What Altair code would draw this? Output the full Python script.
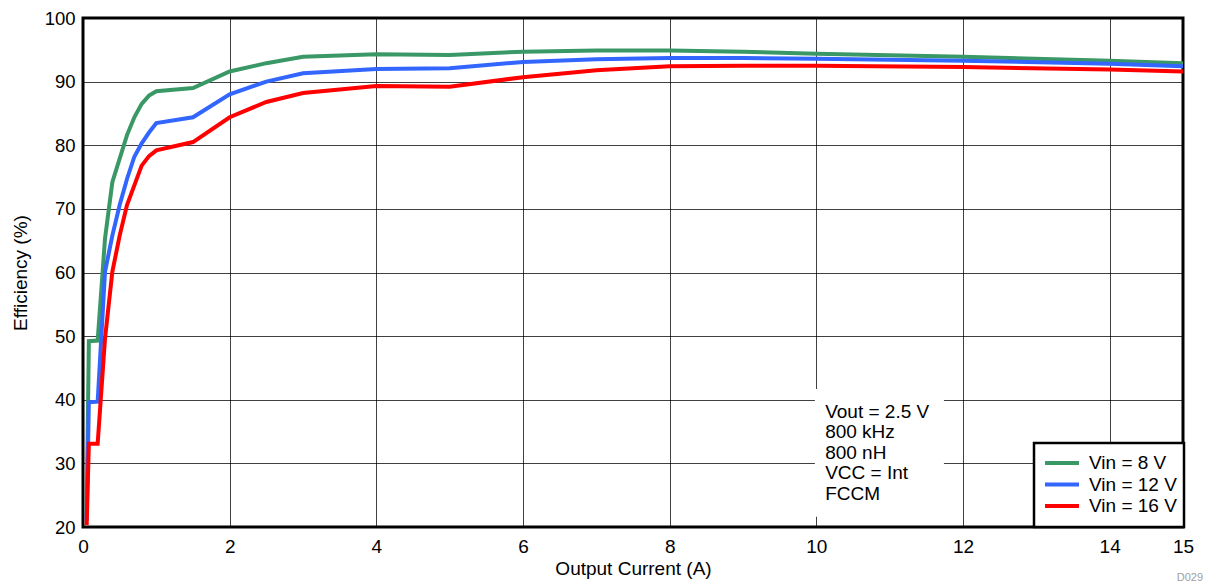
import altair as alt
import pandas as pd

current = [0.05, 0.08, 0.2, 0.3, 0.4, 0.5, 0.6, 0.7, 0.8, 0.9, 1.0, 1.5, 2, 2.5, 3, 4, 5, 6, 7, 8, 9, 10, 12, 14, 15]
eff_8v = [22, 49.2, 49.3, 65.3, 74.2, 77.9, 81.6, 84.4, 86.5, 87.8, 88.5, 89.0, 91.6, 92.9, 93.9, 94.3, 94.2, 94.7, 94.9, 94.9, 94.7, 94.4, 93.9, 93.3, 92.9]
eff_12v = [21, 39.6, 39.7, 60.1, 65.8, 70.6, 74.7, 78.2, 80.3, 82.0, 83.5, 84.4, 88.0, 90.0, 91.3, 92.0, 92.1, 93.1, 93.5, 93.7, 93.7, 93.6, 93.3, 92.8, 92.4]
eff_16v = [20.3, 33.1, 33.1, 49.6, 60.1, 65.8, 70.6, 73.7, 76.8, 78.3, 79.2, 80.5, 84.4, 86.8, 88.2, 89.3, 89.2, 90.7, 91.8, 92.4, 92.5, 92.5, 92.3, 91.9, 91.6]
series = ["Vin = 8 V", "Vin = 12 V", "Vin = 16 V"]
colors = ["#3A9866", "#3366FF", "#FF0000"]
x_ticks = [0, 2, 4, 6, 8, 10, 12, 14, 15]
y_ticks = [20, 30, 40, 50, 60, 70, 80, 90, 100]
note_lines = ["Vout = 2.5 V", "800 kHz", "800 nH", "VCC = Int", "FCCM"]

rows = []
for name, vals in zip(series, [eff_8v, eff_12v, eff_16v]):
    for x, v in zip(current, vals):
        rows.append({"I": x, "Eff": v, "Series": name})
df = pd.DataFrame(rows)

FONT = "Liberation Sans"
TXT = 19
xs = alt.Scale(domain=[0, 15], nice=False, zero=False)
ys = alt.Scale(domain=[20, 100], nice=False, zero=False)
cs = alt.Scale(domain=series, range=colors)

lines = alt.Chart(df).mark_line(strokeWidth=4, clip=True, strokeJoin="miter").encode(
    x=alt.X("I:Q", scale=xs,
            axis=alt.Axis(title="Output Current (A)", values=x_ticks, format="d",
                          labelPadding=10, tickSize=0, titlePadding=3, labelFlush=False)),
    y=alt.Y("Eff:Q", scale=ys,
            axis=alt.Axis(title="Efficiency (%)", values=y_ticks, labelPadding=8,
                          tickSize=0, titlePadding=14, labelFontSize=18.5)),
    color=alt.Color("Series:N", sort=series, scale=cs, legend=None),
    order=alt.Order("I:Q"),
)

box_df = pd.DataFrame([{"x1": 9.98, "x2": 11.74, "y1": 21.6, "y2": 41.7}])
box = alt.Chart(box_df).mark_rect(fill="white").encode(
    x=alt.X("x1:Q", scale=xs), x2="x2:Q",
    y=alt.Y("y1:Q", scale=ys), y2="y2:Q",
)

note_df = pd.DataFrame([{"x": 10.12, "y": 38.1 - i * 3.22, "t": t} for i, t in enumerate(note_lines)])
note = alt.Chart(note_df).mark_text(align="left", baseline="middle", fontSize=TXT, font=FONT,
                                    color="black").encode(
    x=alt.X("x:Q", scale=xs), y=alt.Y("y:Q", scale=ys), text="t:N")

# manual legend (pixel layout inside plot area)
leg_frame = alt.Chart(pd.DataFrame([{"a": 1}])).mark_rect(
    fill="white", stroke="black", strokeWidth=2.5).encode(
    x=alt.value(951), x2=alt.value(1101), y=alt.value(425), y2=alt.value(509))
leg_df = pd.DataFrame([{"Series": s, "py": 445 + i * 21.5} for i, s in enumerate(series)])
leg_lines = alt.Chart(leg_df).mark_rule(strokeWidth=4).encode(
    x=alt.value(962), x2=alt.value(996), y=alt.Y("py:Q", scale=None),
    color=alt.Color("Series:N", sort=series, scale=cs, legend=None))
leg_text = alt.Chart(leg_df).mark_text(align="left", baseline="middle", fontSize=TXT,
                                       font=FONT, color="black").encode(
    x=alt.value(1006), y=alt.Y("py:Q", scale=None), text="Series:N")

code = alt.Chart(pd.DataFrame([{"t": "D029"}])).mark_text(
    align="right", baseline="middle", fontSize=11, font=FONT, color="#A0A0A0").encode(
    x=alt.value(1120), y=alt.value(560), text="t:N")

chart = alt.layer(box, note, lines, leg_frame, leg_lines, leg_text, code).properties(
    width=1100, height=509,
    autosize=alt.AutoSizeParams(type="none"),
    padding={"left": 75, "top": 10, "right": 23, "bottom": 57},
).configure_view(
    stroke="black", strokeWidth=3
).configure_axis(
    grid=True, gridColor="black", gridWidth=1, gridOpacity=0.75,
    domain=False, labelFont=FONT, titleFont=FONT, labelFontSize=19, titleFontSize=TXT,
    labelColor="black", titleColor="black", titleFontWeight="normal"
)

chart.save("out.html", embed_options={"renderer": "svg", "actions": False})
